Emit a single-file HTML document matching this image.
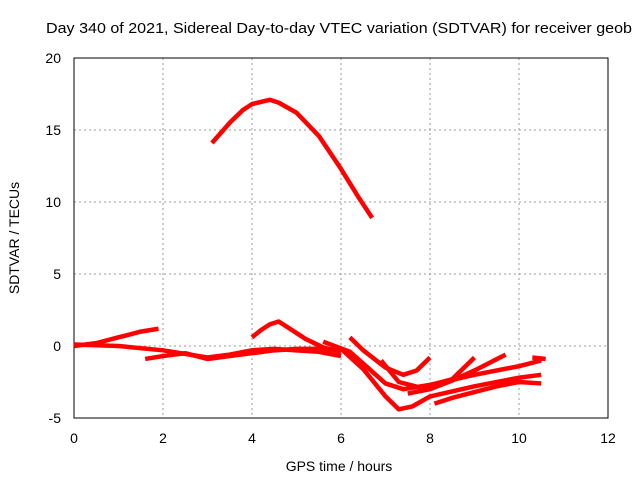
<!DOCTYPE html>
<html><head><meta charset="utf-8"><style>
body{margin:0;background:#fff}
svg{display:block;font-family:"Liberation Sans",sans-serif;font-size:14px}
</style></head><body>
<svg id="chart" width="640" height="480">
<text x="46" y="33" font-size="14.5" textLength="586" lengthAdjust="spacingAndGlyphs">Day 340 of 2021, Sidereal Day-to-day VTEC variation (SDTVAR) for receiver geob</text>
<g id="grid"></g>
<rect x="74" y="58" width="534" height="360" fill="none" stroke="#000" stroke-width="1"/>
<g id="ticks"></g>
<g id="series"></g>
<text x="339" y="471" text-anchor="middle">GPS time / hours</text>
<text transform="translate(19,238) rotate(-90)" text-anchor="middle">SDTVAR / TECUs</text>
</svg>
<script>
const xTicks=[0,2,4,6,8,10,12];
const yTicks=[-5,0,5,10,15,20];
const arc=[[3.1,14.1],[3.5,15.5],[3.8,16.4],[4.0,16.8],[4.4,17.1],[4.6,16.9],[5.0,16.2],[5.5,14.6],[6.0,12.3],[6.4,10.3],[6.7,8.9]];
const sA=[[0,0],[0.5,0.2],[1.0,0.6],[1.5,1.0],[1.9,1.2]];
const sB=[[0,0.1],[1,0],[2,-0.3],[3,-0.8],[3.5,-0.6],[4,-0.3],[4.5,-0.2],[5,-0.3],[5.5,-0.4],[6,-0.7]];
const sC=[[1.6,-0.9],[2,-0.7],[2.5,-0.5],[3,-0.9],[3.5,-0.7],[4,-0.5],[4.5,-0.3],[5,-0.2],[5.5,-0.2],[6,-0.3]];
const sBump=[[4.0,0.6],[4.2,1.1],[4.4,1.5],[4.6,1.7],[4.8,1.3],[5.2,0.5],[5.6,-0.1],[6.0,-0.4]];
const sD1=[[6.0,-0.2],[6.5,-1.6],[7.0,-3.5],[7.3,-4.4],[7.6,-4.2],[8,-3.5],[9,-2.8],[10,-2.2],[10.5,-2.0]];
const sD2=[[5.6,0.3],[6.2,-0.4],[6.6,-1.5],[7.0,-2.6],[7.4,-3.0],[8,-2.7],[9,-2.0],[10,-1.4],[10.5,-1.0]];
const sD3=[[6.2,0.6],[6.5,-0.3],[7.0,-1.5],[7.4,-2.0],[7.7,-1.7],[8.0,-0.8]];
const sD4=[[6.9,-1.0],[7.3,-2.5],[7.8,-2.9],[8.5,-2.3],[9.0,-0.8]];
const sD5=[[7.5,-3.3],[8,-3.0],[8.5,-2.4],[9,-1.7],[9.7,-0.6]];
const sD6=[[8.1,-4.0],[8.5,-3.6],[9,-3.2],[9.5,-2.8],[10,-2.5],[10.5,-2.6]];
const sE=[[10.3,-0.8],[10.6,-0.9]];
const allSeries=[arc,sA,sB,sC,sBump,sD1,sD2,sD3,sD4,sD5,sD6,sE];
const NS='http://www.w3.org/2000/svg';
const X=h=>74+h*534/12;
const Y=v=>418-(v+5)*360/25;
const grid=document.getElementById('grid'),ticks=document.getElementById('ticks'),ser=document.getElementById('series');
function mk(tag,attrs,parent){const e=document.createElementNS(NS,tag);for(const k in attrs)e.setAttribute(k,attrs[k]);parent.appendChild(e);return e;}
xTicks.forEach(t=>{
  if(t>0&&t<12){const g=mk('line',{x1:X(t),x2:X(t),y1:58,y2:418,stroke:'#999','stroke-dasharray':'2,3'},grid);
  
  }
  const l=mk('text',{x:X(t),y:443,'text-anchor':'middle'},ticks);l.textContent=t;
  
  
});
yTicks.forEach(t=>{
  if(t>-5&&t<20){const g=mk('line',{x1:74,x2:608,y1:Y(t),y2:Y(t),stroke:'#999','stroke-dasharray':'2,3'},grid);
  
  }
  const l=mk('text',{x:61,y:Y(t)+5,'text-anchor':'end'},ticks);l.textContent=t;
  
  
});
allSeries.forEach(s=>{
  const p=mk('polyline',{points:s.map(d=>X(d[0])+','+Y(d[1])).join(' '),fill:'none',stroke:'#f00','stroke-width':4.5,'stroke-linejoin':'round'},ser);
  
  
});
</script>
</body></html>
